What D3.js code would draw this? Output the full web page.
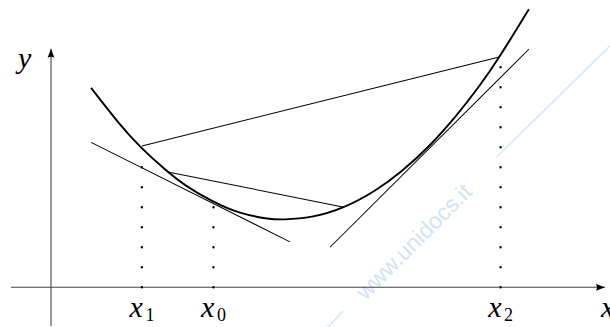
<!DOCTYPE html>
<html>
<head>
<meta charset="utf-8">
<script src="https://cdn.jsdelivr.net/npm/d3@7/dist/d3.min.js"></script>
<style>
  html, body { margin: 0; padding: 0; background: #fff; }
  svg { display: block; }
</style>
</head>
<body>
<svg id="chart" width="610" height="327"></svg>
<script>
// ---- data (in chart units) ----
const curveX = [0.89, 1.5, 2.0, 2.5, 3.0, 3.6, 4.2, 4.8, 5.2, 5.8, 6.5, 7.2, 7.8, 8.4, 9.0, 9.5, 10.0, 10.62];
const curveY = [4.43, 3.66, 3.11, 2.65, 2.26, 1.91, 1.66, 1.53, 1.51, 1.57, 1.78, 2.15, 2.59, 3.14, 3.81, 4.45, 5.18, 6.18];

const tickNames = ["x", "x", "x"];
const tickSubs = ["1", "0", "2"];
const tickX = [2.02, 3.61, 9.99];
const dotTop = [2.67, 1.78, 4.89];

const chordA = [[2.02, 3.14], [9.96, 5.12]];
const chordB = [[2.57, 2.57], [6.51, 1.78]];
const tangentA = [[0.89, 3.22], [5.31, 1.01]];
const tangentB = [[6.20, 0.89], [10.62, 5.29]];

const axisXExtent = [-0.89, 12.31];
const axisYExtent = [-0.86, 5.30];
const axisNames = ["x", "y"];

const watermarkText = "www.unidocs.it";
const watermarkCenter = [8.06, 1.02];
const watermarkSegs = [[[6.11, -0.93], [6.49, -0.53]], [[9.91, 2.90], [12.53, 5.47]]];

// ---- drawing ----
const svg = d3.select("#chart");
const x = d3.scaleLinear().domain([0, 10]).range([51, 501]);
const y = d3.scaleLinear().domain([0, 6]).range([287.3, 17.3]);
const line = d3.line().x(d => x(d[0])).y(d => y(d[1]));
const mathFont = '"Liberation Serif", "Times New Roman", serif';

// watermark
const wm = svg.append("g");
wm.selectAll("path.wmseg").data(watermarkSegs).join("path")
  .attr("class", "wmseg")
  .attr("d", line)
  .attr("stroke", "#d9e7f7").attr("stroke-width", 1.6).attr("fill", "none");
wm.append("text")
  .attr("transform", `translate(${x(watermarkCenter[0])},${y(watermarkCenter[1])}) rotate(-45)`)
  .attr("text-anchor", "middle").attr("dy", "0.35em")
  .style("font-family", '"Liberation Sans", Arial, sans-serif')
  .style("font-size", "23px")
  .attr("fill", "#d3e3f6")
  .text(watermarkText);

// axes
const axisColor = "#444";
svg.append("path").attr("d", line([[axisXExtent[0], 0], [axisXExtent[1], 0]]))
  .attr("stroke", axisColor).attr("stroke-width", 1.1).attr("fill", "none");
svg.append("path").attr("d", line([[0, axisYExtent[0]], [0, axisYExtent[1]]]))
  .attr("stroke", axisColor).attr("stroke-width", 1.1).attr("fill", "none");

// arrowheads
const ax = x(axisXExtent[1]), ay = y(0);
svg.append("path")
  .attr("d", `M${ax},${ay} L${ax - 9},${ay - 3.4} Q${ax - 7},${ay} ${ax - 9},${ay + 3.4} Z`)
  .attr("fill", "#000");
const bx = x(0), by = y(axisYExtent[1]);
svg.append("path")
  .attr("d", `M${bx},${by} L${bx - 3.4},${by + 9} Q${bx},${by + 7} ${bx + 3.4},${by + 9} Z`)
  .attr("fill", "#000");

// dotted verticals
svg.selectAll("path.dots").data(tickX).join("path")
  .attr("class", "dots")
  .attr("d", (d, i) => line([[d, 0], [d, dotTop[i] + 0.05]]))
  .attr("stroke", "#000").attr("stroke-width", 2.4)
  .attr("stroke-linecap", "round")
  .attr("stroke-dasharray", "0 20")
  .attr("fill", "none");

// tangents and chords
[tangentA, tangentB, chordA, chordB].forEach(seg => {
  svg.append("path").attr("d", line(seg))
    .attr("stroke", "#000").attr("stroke-width", 1.05).attr("fill", "none");
});

// curve
const pts = curveX.map((v, i) => [v, curveY[i]]);
svg.append("path")
  .attr("d", d3.line().x(d => x(d[0])).y(d => y(d[1])).curve(d3.curveNatural)(pts))
  .attr("stroke", "#000").attr("stroke-width", 1.9).attr("fill", "none");

// tick labels
const lab = svg.selectAll("g.lab").data(tickX).join("g").attr("class", "lab");
lab.append("text")
  .attr("x", d => x(d) + 1).attr("y", 317)
  .attr("text-anchor", "end")
  .style("font-family", mathFont).style("font-style", "italic").style("font-size", "30px")
  .text((d, i) => tickNames[i]);
lab.append("text")
  .attr("x", d => x(d) + 3.5).attr("y", 320.5)
  .attr("text-anchor", "start")
  .style("font-family", mathFont).style("font-size", "18px")
  .text((d, i) => tickSubs[i]);

// axis names
svg.append("text")
  .attr("x", x(axisXExtent[1]) - 4).attr("y", 317)
  .style("font-family", mathFont).style("font-style", "italic").style("font-size", "30px")
  .text(axisNames[0]);
svg.append("text")
  .attr("x", 18).attr("y", 68)
  .style("font-family", mathFont).style("font-style", "italic").style("font-size", "30px")
  .text(axisNames[1]);
</script>
</body>
</html>
